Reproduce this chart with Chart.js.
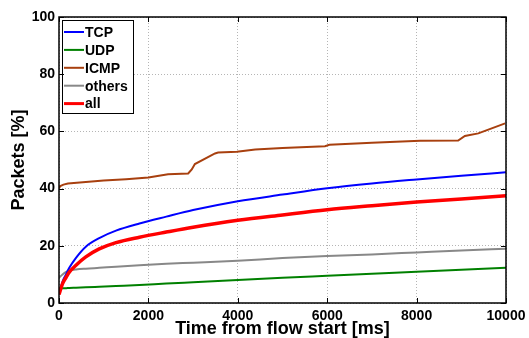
<!DOCTYPE html>
<html lang="en">
  <head>
    <meta charset="UTF-8" />
    <title>Packets vs time from flow start</title>
    <script src="https://cdn.jsdelivr.net/npm/chart.js"></script>
    <style>
      body {
        margin: 0;
        background: #ffffff;
      }
      canvas {
        display: block;
      }
    </style>
  </head>
  <body>
    <canvas id="packetsChart" width="529" height="338"></canvas>

    <script>
      // DATA
      const timeMs = [0, 80, 160, 230, 380, 600, 900, 1275, 1800, 2400, 3000, 4000, 5000, 6000, 7000, 8000, 9000, 10000];
      const tcp = [3.0, 7.5, 10.1, 12.3, 15.8, 19.7, 22.7, 25.3, 27.8, 30.2, 32.5, 35.6, 37.9, 40.1, 41.8, 43.2, 44.5, 45.7];
      const udp = [5.1, 5.15, 5.2, 5.25, 5.35, 5.5, 5.7, 5.95, 6.3, 6.8, 7.25, 8.0, 8.8, 9.5, 10.2, 10.9, 11.6, 12.3];
      const others = [8.8, 10.0, 10.9, 11.3, 11.7, 12.0, 12.3, 12.7, 13.2, 13.7, 14.1, 14.8, 15.7, 16.4, 17.0, 17.7, 18.4, 19.0];
      const all = [3.0, 6.8, 9.0, 10.8, 13.2, 16.1, 18.9, 21.1, 23.0, 24.8, 26.5, 28.9, 30.8, 32.6, 34.0, 35.3, 36.4, 37.5];

      const icmpTimeMs = [0, 30, 100, 200, 600, 1000, 1500, 2000, 2440, 2890, 2970, 3040, 3490, 3560, 3980, 4390, 5000, 5950, 6050, 7000, 8080, 8930, 9080, 9380, 9980];
      const icmp = [40.1, 40.9, 41.4, 41.8, 42.3, 42.8, 43.3, 43.9, 45.0, 45.3, 46.7, 48.6, 52.3, 52.6, 52.9, 53.7, 54.2, 54.8, 55.3, 56.0, 56.7, 56.8, 58.4, 59.3, 62.8];

      const xTicks = [0, 2000, 4000, 6000, 8000, 10000];
      const yTicks = [0, 20, 40, 60, 80, 100];

      const toPoints = (xs, ys) => xs.map((x, i) => ({ x: x, y: ys[i] }));

      Chart.defaults.font.family = "'Liberation Sans', Arial, sans-serif";
      Chart.defaults.color = "#000";

      // legend box drawn inside the plot, top-left
      const insideLegend = {
        id: "insideLegend",
        afterDatasetsDraw(chart) {
          const ctx = chart.ctx;
          const x0 = 62, y0 = 20, w = 71, h = 93;
          ctx.save();
          ctx.fillStyle = "#fff";
          ctx.fillRect(x0, y0, w, h);
          ctx.strokeStyle = "#000";
          ctx.lineWidth = 1;
          ctx.strokeRect(x0 + 0.5, y0 + 0.5, w, h);
          ctx.font = "bold 14px 'Liberation Sans', Arial, sans-serif";
          ctx.textBaseline = "middle";
          ctx.fillStyle = "#000";
          chart.data.datasets.forEach((ds, i) => {
            const y = y0 + 12 + i * 17.9;
            ctx.strokeStyle = ds.borderColor;
            ctx.lineWidth = ds.label === "all" ? 3 : 2;
            ctx.beginPath();
            ctx.moveTo(x0 + 2, y);
            ctx.lineTo(x0 + 22, y);
            ctx.stroke();
            ctx.fillText(ds.label, x0 + 23, y + 1);
          });
          ctx.restore();
        },
      };

      // box round the plot with inward tick marks
      const plotBox = {
        id: "plotBox",
        afterDraw(chart) {
          const { ctx, chartArea: a, scales } = chart;
          ctx.save();
          ctx.strokeStyle = "#000";
          ctx.lineWidth = 1.5;
          ctx.strokeRect(a.left, a.top, a.right - a.left, a.bottom - a.top);
          ctx.lineWidth = 1;
          ctx.beginPath();
          xTicks.forEach((v) => {
            const px = Math.round(scales.x.getPixelForValue(v)) + 0.5;
            ctx.moveTo(px, a.bottom);
            ctx.lineTo(px, a.bottom - 5);
            ctx.moveTo(px, a.top);
            ctx.lineTo(px, a.top + 5);
          });
          yTicks.forEach((v) => {
            const py = Math.round(scales.y.getPixelForValue(v)) + 0.5;
            ctx.moveTo(a.left, py);
            ctx.lineTo(a.left + 5, py);
            ctx.moveTo(a.right, py);
            ctx.lineTo(a.right - 5, py);
          });
          ctx.stroke();
          ctx.restore();
        },
      };

      new Chart(document.getElementById("packetsChart"), {
        type: "line",
        data: {
          datasets: [
            {
              label: "TCP",
              data: toPoints(timeMs, tcp),
              borderColor: "#0000ff",
              borderWidth: 2,
              cubicInterpolationMode: "monotone",
              order: 1,
            },
            {
              label: "UDP",
              data: toPoints(timeMs, udp),
              borderColor: "#008000",
              borderWidth: 2,
              cubicInterpolationMode: "monotone",
              order: 1,
            },
            {
              label: "ICMP",
              data: toPoints(icmpTimeMs, icmp),
              borderColor: "#a8400f",
              borderWidth: 2,
              tension: 0,
              order: 1,
            },
            {
              label: "others",
              data: toPoints(timeMs, others),
              borderColor: "#888888",
              borderWidth: 2,
              cubicInterpolationMode: "monotone",
              order: 1,
            },
            {
              label: "all",
              data: toPoints(timeMs, all),
              borderColor: "#ff0000",
              borderWidth: 3.5,
              cubicInterpolationMode: "monotone",
              order: 0,
            },
          ],
        },
        options: {
          responsive: false,
          animation: false,
          layout: { padding: { top: 17, right: 23, left: 0, bottom: 0 } },
          elements: { point: { radius: 0 } },
          plugins: {
            legend: { display: false },
            tooltip: { enabled: false },
          },
          scales: {
            x: {
              type: "linear",
              min: 0,
              max: 10000,
              afterBuildTicks: (scale) => {
                scale.ticks = xTicks.map((v) => ({ value: v }));
              },
              afterFit: (scale) => {
                scale.height = 35;
                scale.paddingLeft = 0;
                scale.paddingRight = 0;
              },
              ticks: {
                padding: 5,
                maxRotation: 0,
                font: { size: 14, weight: "bold" },
                color: "#000",
                callback: (v) => String(v),
              },
              grid: { color: "#b5b5b5", lineWidth: 1, drawTicks: false },
              border: { display: false, dash: [1, 2] },
              title: {
                display: true,
                text: "Time from flow start [ms]",
                font: { size: 18, weight: "bold", lineHeight: 1 },
                padding: { top: 0, bottom: 0 },
                color: "#000",
              },
            },
            y: {
              min: 0,
              max: 100,
              afterBuildTicks: (scale) => {
                scale.ticks = yTicks.map((v) => ({ value: v }));
              },
              afterFit: (scale) => {
                scale.width = 59;
              },
              ticks: {
                padding: 4,
                font: { size: 14, weight: "bold" },
                color: "#000",
                callback: (v) => String(v),
              },
              grid: { color: "#b5b5b5", lineWidth: 1, drawTicks: false },
              border: { display: false, dash: [1, 2] },
              title: {
                display: true,
                text: "Packets [%]",
                font: { size: 18, weight: "bold" },
                padding: { top: 8, bottom: 0 },
                color: "#000",
              },
            },
          },
        },
        plugins: [insideLegend, plotBox],
      });
    </script>
  </body>
</html>
